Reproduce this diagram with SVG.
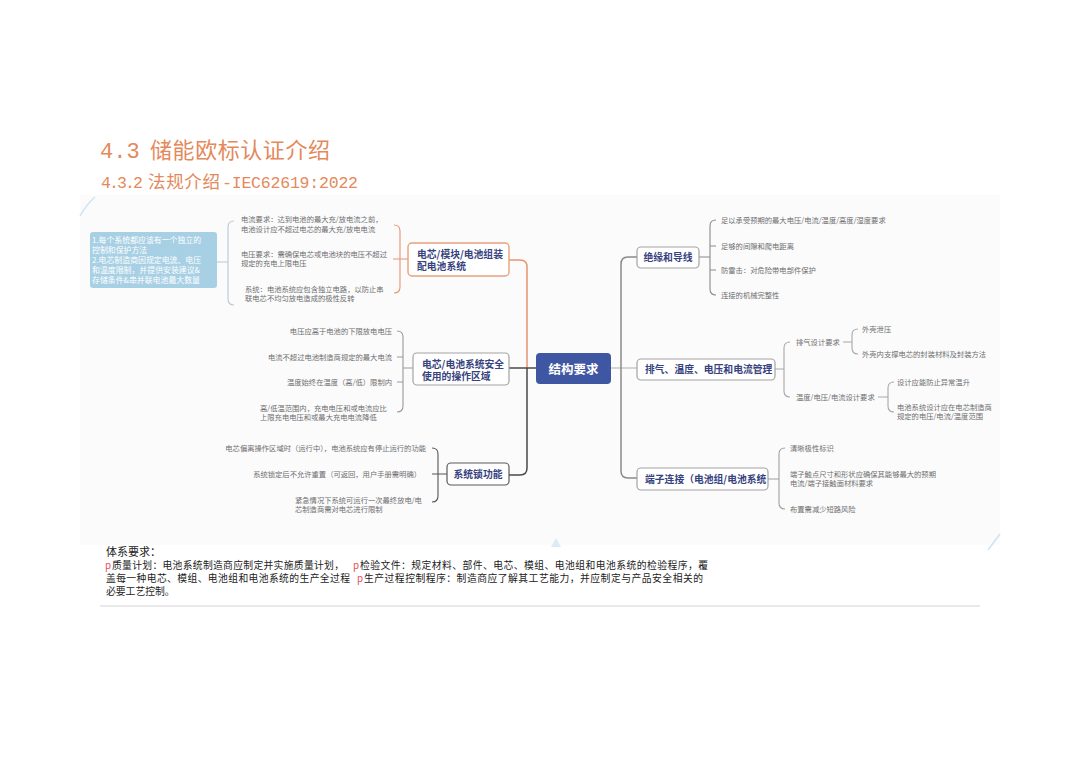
<svg xmlns="http://www.w3.org/2000/svg" width="1080" height="764" viewBox="0 0 1080 764">
<style>
.leaf{font-family:"Noto Sans CJK SC","Noto Sans",sans-serif;font-size:7.3px;fill:#6e6e6e}
.nt{font-family:"Noto Sans CJK SC","Noto Sans",sans-serif;font-size:9.8px;font-weight:bold;fill:#36427e}
.nb{fill:#ffffff;stroke:#a3a3a3;stroke-width:1.2}
.br{fill:none;stroke-width:1.1}
.body{font-family:"Noto Sans CJK SC","Noto Sans",sans-serif;font-size:9.8px;fill:#222222}
.pk{fill:#e8505a}
.ttl{fill:#e4895c}
</style>
<rect width="1080" height="764" fill="#ffffff"/>
<rect x="80" y="195" width="920" height="350" fill="#fbfbfc"/>
<path d="M80,216 Q86,205 95,197" fill="none" stroke="#cfe3f0" stroke-width="1.5"/>
<path d="M988,550 Q994,542 1000,534" fill="none" stroke="#cfe3f0" stroke-width="1.5"/>
<polygon points="551,547 556,538 561,547" fill="#dcecf6"/>

<g id="title">
<text x="100" y="158" class="ttl" style="font-family:'Liberation Mono','Noto Sans CJK SC',monospace;font-size:22px">4.3</text>
<text x="150" y="158" class="ttl" style="font-family:'Noto Sans CJK SC',sans-serif;font-size:22px" textLength="180">储能欧标认证介绍</text>
<text x="101" y="188" class="ttl" style="font-family:'Liberation Mono',monospace;font-size:16.5px" textLength="42">4.3.2</text>
<text x="148" y="188" class="ttl" style="font-family:'Noto Sans CJK SC',sans-serif;font-size:17.5px" textLength="72">法规介绍</text>
<text x="222" y="188" class="ttl" style="font-family:'Liberation Mono',monospace;font-size:16.5px" textLength="136">-IEC62619:2022</text>
</g>

<g id="connectors">
<path d="M509,260 L520,260 Q527,260 527,267 L527,368" fill="none" stroke="#e8956f" stroke-width="1.5"/>
<path d="M509,368 L536,368 M527,368 L527,468 Q527,475 520,475 L509,475" fill="none" stroke="#4a4a4a" stroke-width="1.5"/>
<path d="M611,368 L637,368" fill="none" stroke="#c8c8c8" stroke-width="1.5"/>
<path d="M637,257 L628,257 Q621,257 621,264 L621,471 Q621,478 628,478 L637,478" fill="none" stroke="#8a8a8a" stroke-width="1.5"/>
<path class="br" stroke="#e8956f" d="M394,225 Q400,225 400,231 L400,287 Q400,293 394,293 M393,259 L408,259"/>
<path class="br" stroke="#b8c9d8" d="M234,221 Q228,221 228,227 L228,299 Q228,305 234,305 M217,262 L228,262"/>
<path class="br" stroke="#9a9a9a" d="M397,331 Q403,331 403,337 L403,406 Q403,412 397,412 M397,357 L403,357 M397,382 L403,382 M403,368 L413,368"/>
<path class="br" stroke="#555555" d="M432,448 Q438,448 438,454 L438,496 Q438,502 432,502 M432,474 L447,474"/>
<path class="br" stroke="#8a8a8a" d="M716,220 Q710,220 710,226 L710,289 Q710,295 716,295 M710,246 L716,246 M710,270 L716,270 M699,257 L710,257"/>
<path class="br" stroke="#a8a8a8" d="M790,342 Q784,342 784,348 L784,391 Q784,397 790,397 M775,369 L784,369"/>
<path class="br" stroke="#a8a8a8" d="M843,342 L852,342 M858,329 Q852,329 852,335 L852,348 Q852,354 858,354"/>
<path class="br" stroke="#a8a8a8" d="M878,397 L888,397 M894,382 Q888,382 888,388 L888,406 Q888,412 894,412"/>
<path class="br" stroke="#a0a0a0" d="M785,448 Q779,448 779,454 L779,503 Q779,509 785,509 M768,479 L779,479"/>
</g>

<g id="center">
<rect x="536" y="353" width="75" height="31" rx="4" fill="#3f56a2"/>
<text x="573.5" y="373.5" text-anchor="middle" style="font-family:'Noto Sans CJK SC',sans-serif;font-size:12.5px;font-weight:bold;fill:#ffffff">结构要求</text>
</g>

<g id="note">
<rect x="90" y="232" width="127" height="56" rx="3" fill="#a7d0e4"/>
<g style="font-family:'Noto Sans CJK SC',sans-serif;font-size:7.9px;fill:#ffffff">
<text x="92" y="242.5">1.每个系统都应该有一个独立的</text>
<text x="92" y="252.5">控制和保护方法</text>
<text x="92" y="262.5">2.电芯制造商因规定电流、电压</text>
<text x="92" y="272.5">和温度限制，并提供安装建议&amp;</text>
<text x="92" y="282.5">存储条件&amp;串并联电池最大数量</text>
</g>
</g>

<g id="node1">
<rect class="nb" x="408" y="243" width="101" height="33" rx="4" style="stroke:#e8a07e;stroke-width:1.4"/>
<text class="nt" x="417" y="258">电芯/模块/电池组装</text>
<text class="nt" x="417" y="270">配电池系统</text>
<text class="leaf" x="241" y="222">电流要求：达到电池的最大充/放电流之前，</text>
<text class="leaf" x="241" y="231.5">电池设计应不超过电芯的最大充/放电电流</text>
<text class="leaf" x="241" y="256.5">电压要求：需确保电芯或电池块的电压不超过</text>
<text class="leaf" x="241" y="266">规定的充电上限电压</text>
<text class="leaf" x="245" y="291.5">系统：电池系统应包含独立电路，以防止串</text>
<text class="leaf" x="245" y="301">联电芯不均匀放电造成的极性反转</text>
</g>

<g id="node2">
<rect class="nb" x="413" y="353" width="96" height="32" rx="4"/>
<text class="nt" x="422" y="368">电芯/电池系统安全</text>
<text class="nt" x="422" y="380">使用的操作区域</text>
<text class="leaf" x="392" y="333.5" text-anchor="end">电压应高于电池的下限放电电压</text>
<text class="leaf" x="392" y="359.5" text-anchor="end">电流不超过电池制造商规定的最大电流</text>
<text class="leaf" x="392" y="384.5" text-anchor="end">温度始终在温度（高/低）限制内</text>
<text class="leaf" x="260" y="410.5">高/低温范围内，充电电压和或电流应比</text>
<text class="leaf" x="260" y="419.5">上限充电电压和或最大充电电流降低</text>
</g>

<g id="node3">
<rect class="nb" x="447" y="463" width="62" height="22" rx="4" style="stroke:#5a5a5a"/>
<text class="nt" x="478" y="477.5" text-anchor="middle">系统锁功能</text>
<text class="leaf" x="426" y="450.5" text-anchor="end">电芯偏离操作区域时（运行中），电池系统应有停止运行的功能</text>
<text class="leaf" x="421" y="476.5" text-anchor="end">系统锁定后不允许重置（可返回，用户手册需明确）</text>
<text class="leaf" x="295" y="502.5">紧急情况下系统可运行一次最终放电/电</text>
<text class="leaf" x="295" y="512">芯制造商需对电芯进行限制</text>
</g>

<g id="node4">
<rect class="nb" x="637" y="247" width="62" height="21" rx="4"/>
<text class="nt" x="668" y="261" text-anchor="middle">绝缘和导线</text>
<text class="leaf" x="721" y="222.5">足以承受预期的最大电压/电流/温度/高度/湿度要求</text>
<text class="leaf" x="721" y="248.5">足够的间隙和爬电距离</text>
<text class="leaf" x="721" y="272.5">防雷击：对危险带电部件保护</text>
<text class="leaf" x="721" y="297.5">连接的机械完整性</text>
</g>

<g id="node5">
<rect class="nb" x="637" y="359" width="138" height="21" rx="4"/>
<text class="nt" x="645" y="373">排气、温度、电压和电流管理</text>
<text class="leaf" x="796" y="344.5">排气设计要求</text>
<text class="leaf" x="862" y="331.5">外壳泄压</text>
<text class="leaf" x="862" y="356.5">外壳内支撑电芯的封装材料及封装方法</text>
<text class="leaf" x="796" y="399.5">温度/电压/电流设计要求</text>
<text class="leaf" x="897" y="384.5">设计应能防止异常温升</text>
<text class="leaf" x="897" y="409.5">电池系统设计应在电芯制造商</text>
<text class="leaf" x="897" y="419">规定的电压/电流/温度范围</text>
</g>

<g id="node6">
<rect class="nb" x="637" y="468" width="131" height="22" rx="4"/>
<text class="nt" x="645" y="482.5">端子连接（电池组/电池系统</text>
<text class="leaf" x="790" y="450.5">清晰极性标识</text>
<text class="leaf" x="790" y="476.5">端子触点尺寸和形状应确保其能够最大的预期</text>
<text class="leaf" x="790" y="486">电流/端子接触面材料要求</text>
<text class="leaf" x="790" y="511.5">布置需减少短路风险</text>
</g>

<g id="bodytext">
<text class="body" x="106" y="556" style="font-size:11px">体系要求：</text>
<text class="body" y="569"><tspan class="pk" x="105">p</tspan><tspan x="112" textLength="232">质量计划：电池系统制造商应制定并实施质量计划，</tspan><tspan class="pk" x="353">p</tspan><tspan x="360" textLength="348">检验文件：规定材料、部件、电芯、模组、电池组和电池系统的检验程序，覆</tspan></text>
<text class="body" y="582"><tspan x="106" textLength="244">盖每一种电芯、模组、电池组和电池系统的生产全过程</tspan><tspan class="pk" x="357">p</tspan><tspan x="364" textLength="339">生产过程控制程序：制造商应了解其工艺能力，并应制定与产品安全相关的</tspan></text>
<text class="body" x="106" y="595">必要工艺控制。</text>
</g>
<line x1="100" y1="606" x2="980" y2="606" stroke="#e2e2e4" stroke-width="1.5"/>
</svg>
